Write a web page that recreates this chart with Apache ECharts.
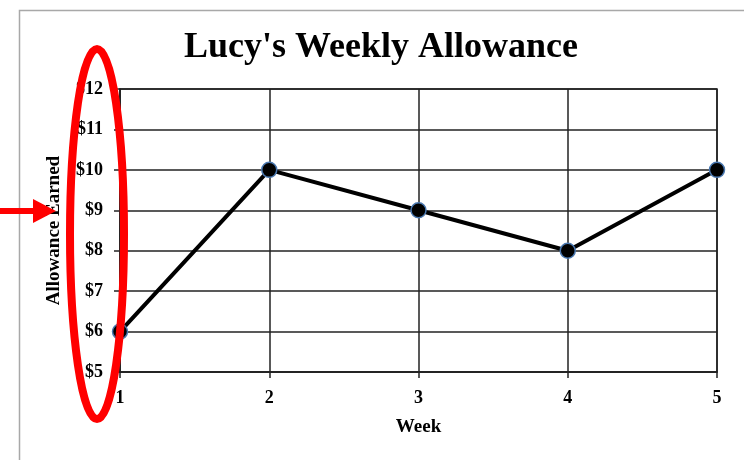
<!DOCTYPE html>
<html>
<head>
<meta charset="utf-8">
<script src="https://cdn.jsdelivr.net/npm/echarts@6/dist/echarts.min.js"></script>
<style>
  html, body { margin: 0; padding: 0; background: #fff; }
  #chart { width: 744px; height: 460px; }
</style>
</head>
<body>
<div id="chart"></div>
<script>
// Weekly allowance data
const weeks = ['1', '2', '3', '4', '5'];
const allowance = [6, 10, 9, 8, 10];
const yMin = 5, yMax = 12, yStep = 1;

const serif = '"Liberation Serif", "Times New Roman", serif';
const chart = echarts.init(document.getElementById('chart'));

chart.setOption({
  backgroundColor: '#fff',
  animation: false,
  title: {
    text: "Lucy's Weekly Allowance",
    left: 376, top: 25, textAlign: 'center',
    textStyle: { fontFamily: serif, fontWeight: 'bold', fontSize: 36, color: '#000' }
  },
  grid: { left: 120, right: 27, top: 89, bottom: 88, show: true, borderColor: '#222', borderWidth: 1.5 },
  xAxis: {
    type: 'category',
    data: weeks,
    boundaryGap: false,
    name: 'Week',
    nameLocation: 'middle',
    nameGap: 46,
    nameTextStyle: { fontFamily: serif, fontWeight: 'bold', fontSize: 19, color: '#000' },
    axisLine: { lineStyle: { color: '#222', width: 1.5 } },
    axisTick: { show: true, length: 6, lineStyle: { color: '#222', width: 1.5 } },
    axisLabel: { fontFamily: serif, fontWeight: 'bold', fontSize: 18, color: '#000', margin: 17 },
    splitLine: { show: true, lineStyle: { color: '#222', width: 1.5 } }
  },
  yAxis: {
    type: 'value',
    min: yMin, max: yMax, interval: yStep,
    name: 'Allowance Earned',
    nameLocation: 'middle',
    nameGap: 56,
    nameRotate: 90,
    nameTextStyle: { fontFamily: serif, fontWeight: 'bold', fontSize: 19, color: '#000' },
    axisLine: { show: true, lineStyle: { color: '#222', width: 1.5 } },
    axisTick: { show: true, length: 6, lineStyle: { color: '#222', width: 1.5 } },
    axisLabel: { fontFamily: serif, fontWeight: 'bold', fontSize: 18, color: '#000', margin: 17,
      formatter: v => '$' + v },
    splitLine: { show: true, lineStyle: { color: '#222', width: 1.5 } }
  },
  series: [{
    type: 'line',
    data: allowance,
    symbol: 'circle',
    symbolSize: 15,
    lineStyle: { color: '#000', width: 4 },
    itemStyle: { color: '#000', borderColor: '#4a78b0', borderWidth: 1.5 },
    z: 5
  }],
  graphic: [
    // outer frame
    { type: 'rect', shape: { x: 19.5, y: 10.5, width: 740, height: 460 },
      style: { fill: null, stroke: '#a8a8a8', lineWidth: 1.5 }, z: 0 },
    // highlight around the y-axis labels
    { type: 'ellipse', shape: { cx: 97, cy: 234, rx: 27, ry: 185 },
      style: { fill: null, stroke: '#ff0000', lineWidth: 8 }, z: 100 },
    // pointer arrow
    { type: 'rect', shape: { x: 0, y: 208, width: 36, height: 6 },
      style: { fill: '#ff0000' }, z: 100 },
    { type: 'polygon', shape: { points: [[33, 199], [56, 211], [33, 223]] },
      style: { fill: '#ff0000' }, z: 100 }
  ]
});
</script>
</body>
</html>
